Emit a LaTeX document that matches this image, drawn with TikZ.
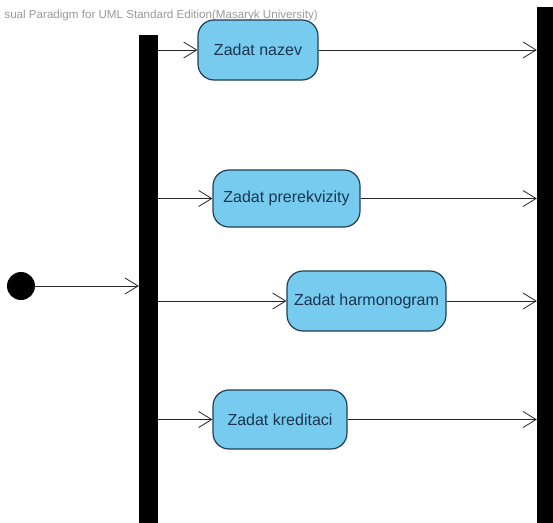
\documentclass[tikz,border=0pt]{standalone}
\usepackage{fontspec}
\setmainfont{Liberation Sans}
\usetikzlibrary{arrows.meta}
\definecolor{actfill}{HTML}{76CBEE}
\definecolor{actline}{HTML}{233F55}
\definecolor{acttext}{HTML}{1C3550}
\definecolor{wmark}{HTML}{9A9A9A}
\tikzset{
  action/.style={draw=actline, line width=1.2pt, fill=actfill, rounded corners=16pt,
    text=acttext, font=\fontsize{16}{18}\selectfont, inner sep=0pt, align=center},
  bar/.style={fill=black, draw=none, inner sep=0pt},
  flow/.style={draw=black!85, line width=0.8pt, -{Straight Barb[length=13pt,width=16pt,line width=0.8pt]}}
}
\begin{document}
\begin{tikzpicture}[x=1pt,y=-1pt]
\useasboundingbox (0,0) rectangle (553,522);
\fill[white] (0,0) rectangle (553,522);

% tool watermark
\node[anchor=east, text=wmark, font=\fontsize{11.6}{13}\selectfont, inner sep=0pt] (mark) at (318,16)
  {sual Paradigm for UML Standard Edition(Masaryk University)};

% fork and join bars
\node[bar, minimum width=19pt, minimum height=490pt] (fork) at (148.5,280) {};
\node[bar, minimum width=16pt, minimum height=520pt] (join) at (545,267) {};

% initial node
\node[circle, fill=black, minimum size=28pt, inner sep=0pt] (init) at (21,286) {};

% actions
\node[action, minimum width=120pt, minimum height=60pt] (a1) at (258,50) {Zadat nazev};
\node[action, minimum width=147pt, minimum height=57pt] (a2) at (286.5,198.5) {Zadat prerekvizity};
\node[action, minimum width=159pt, minimum height=60pt] (a3) at (366.5,301) {Zadat harmonogram};
\node[action, minimum width=134pt, minimum height=59pt] (a4) at (280,419.5) {Zadat kreditaci};

% flows
\draw[flow] (init) -- (init -| fork.west);
\foreach \a in {a1,a2,a3,a4}{
  \draw[flow] (fork.east |- \a.west) -- (\a.west);
  \draw[flow] (\a.east) -- (\a.east -| join.west);
}
\end{tikzpicture}
\end{document}
